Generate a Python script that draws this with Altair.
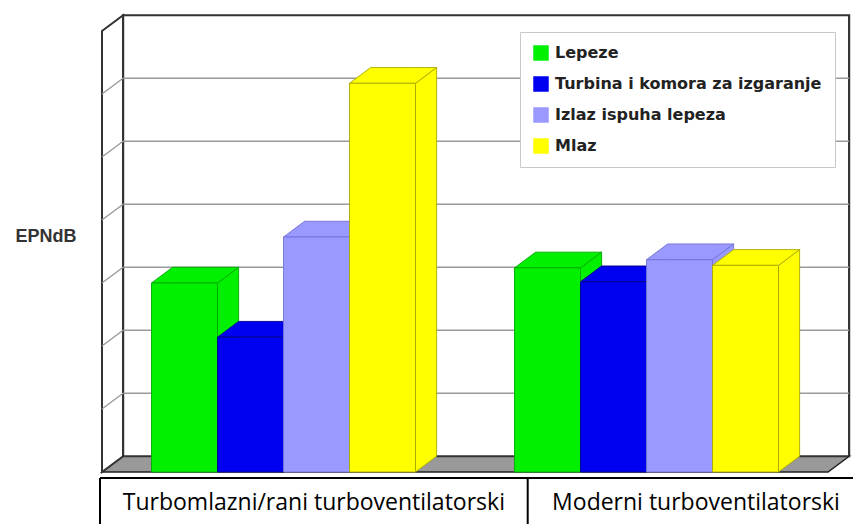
import altair as alt
import pandas as pd

# ---------------- data ----------------
categories = ["Turbomlazni/rani turboventilatorski", "Moderni turboventilatorski"]
series = ["Lepeze", "Turbina i komora za izgaranje", "Izlaz ispuha lepeza", "Mlaz"]
early_vals = [3.0, 2.14, 3.73, 6.17]
modern_vals = [3.24, 3.02, 3.37, 3.28]
group_vals = [early_vals, modern_vals]
grid_levels = [1, 2, 3, 4, 5, 6]
wall_top = 7
axis_title = "EPNdB"

# ---------------- style / layout ----------------
fill_colors = ["#00f000", "#0000f0", "#9999ff", "#ffff00"]
edge_colors = ["#00a800", "#00008c", "#7272d8", "#a8a800"]

W, H = 845, 516
PX_U, PX_V = 66.0, 63.0
ORIGIN_X, ORIGIN_Y = 94.0, 464.0      # front-bottom-left corner of the floor inside the view
DX, DY = 0.32, 0.25                   # depth offset of the 3D box
GROUP_W, GAP, N_SLOTS = 5.5, 0.75, 11
table_edges = [-0.03, 6.45, 11.55]
table_top = -0.095
table_text_y = -0.49

x_dom = [-ORIGIN_X / PX_U, (W - ORIGIN_X) / PX_U]
y_dom = [-(H - ORIGIN_Y) / PX_V, ORIGIN_Y / PX_V]
xs = alt.Scale(domain=x_dom, nice=False, zero=False)
ys = alt.Scale(domain=y_dom, nice=False, zero=False)

# ---------------- derived tables ----------------
front, side, top = [], [], []
for g, vals in enumerate(group_vals):
    for s, v in enumerate(vals):
        x0 = g * GROUP_W + GAP + s
        bid = f"b{g}{s}"
        front.append(dict(x=x0, x2=x0 + 1, lo=0, hi=v, series=series[s], bid=bid))
        side += [dict(x=x0 + 1, lo=0, hi=v, series=series[s], bid=bid),
                 dict(x=x0 + 1 + DX, lo=DY, hi=v + DY, series=series[s], bid=bid)]
        top += [dict(x=x0, lo=v, hi=v, series=series[s], bid=bid),
                dict(x=x0 + DX, lo=v, hi=v + DY, series=series[s], bid=bid),
                dict(x=x0 + 1, lo=v, hi=v + DY, series=series[s], bid=bid),
                dict(x=x0 + 1 + DX, lo=v + DY, hi=v + DY, series=series[s], bid=bid)]
front, side, top = pd.DataFrame(front), pd.DataFrame(side), pd.DataFrame(top)

floor = pd.DataFrame(dict(x=[0, DX, N_SLOTS, N_SLOTS + DX],
                          lo=[0, 0, 0, DY], hi=[0, DY, DY, DY]))
left_wall = pd.DataFrame(dict(x=[0, DX], lo=[0, DY], hi=[wall_top, wall_top + DY]))
back_wall = pd.DataFrame(dict(x=[DX], x2=[N_SLOTS + DX], lo=[DY], hi=[wall_top + DY]))
grid_back = pd.DataFrame(dict(x=[DX] * len(grid_levels), x2=[N_SLOTS + DX] * len(grid_levels),
                              y=[k + DY for k in grid_levels]))
grid_left = pd.DataFrame(dict(x=[0, DX] * len(grid_levels),
                              y=sum([[k, k + DY] for k in grid_levels], []),
                              k=sum([[k, k] for k in grid_levels], [])))
table_h = pd.DataFrame(dict(x=[table_edges[0]], x2=[x_dom[1]], y=[table_top]))
table_v = pd.DataFrame(dict(x=table_edges[:2], y=[table_top] * 2, y2=[y_dom[0]] * 2))
table_txt = pd.DataFrame(dict(x=[(table_edges[i] + table_edges[i + 1]) / 2 for i in range(2)],
                              y=[table_text_y] * 2, label=categories))
ytitle = pd.DataFrame(dict(x=[-0.85], y=[3.73], label=[axis_title]))

# ---------------- encodings ----------------
color_enc = alt.Color("series:N", scale=alt.Scale(domain=series, range=fill_colors),
                      legend=alt.Legend(orient="none", legendX=512, legendY=24, title=None,
                                        symbolType="square", symbolSize=240, symbolStrokeWidth=0,
                                        labelFont="DejaVu Sans", labelFontWeight="bold",
                                        labelFontSize=16, labelColor="#222222", labelLimit=500,
                                        labelOffset=6, padding=13, rowPadding=15,
                                        fillColor="white", strokeColor="#c8c8c8"))
stroke_enc = alt.Stroke("series:N", scale=alt.Scale(domain=series, range=edge_colors), legend=None)

def X(f="x"):
    return alt.X(f"{f}:Q", scale=xs, axis=None)

def Y(f="lo"):
    return alt.Y(f"{f}:Q", scale=ys, axis=None, stack=None)

frame = "#333333"
floor_l = alt.Chart(floor).mark_area(color="#999999", stroke="#222222", strokeWidth=1.5).encode(
    x=X(), y=Y(), y2="hi:Q")
left_l = alt.Chart(left_wall).mark_area(color="white", stroke=frame, strokeWidth=2).encode(
    x=X(), y=Y(), y2="hi:Q")
back_l = alt.Chart(back_wall).mark_rect(fill="white", stroke=frame, strokeWidth=2.2).encode(
    x=X(), x2="x2:Q", y=Y(), y2="hi:Q")
gridb_l = alt.Chart(grid_back).mark_rule(color="#9a9a9a", strokeWidth=1.6).encode(
    x=X(), x2="x2:Q", y=Y("y"))
gridl_l = alt.Chart(grid_left).mark_line(color="#9a9a9a", strokeWidth=1.4).encode(
    x=X(), y=Y("y"), detail="k:N")
side_l = alt.Chart(side).mark_area(strokeWidth=0.9, opacity=1).encode(
    x=X(), y=Y(), y2="hi:Q", color=color_enc, stroke=stroke_enc, detail="bid:N")
top_l = alt.Chart(top).mark_area(strokeWidth=0.9, opacity=1).encode(
    x=X(), y=Y(), y2="hi:Q", color=color_enc, stroke=stroke_enc, detail="bid:N")
front_l = alt.Chart(front).mark_rect(strokeWidth=0.9, opacity=1).encode(
    x=X(), x2="x2:Q", y=Y(), y2="hi:Q", color=color_enc, stroke=stroke_enc)
tab_h = alt.Chart(table_h).mark_rule(color="black", strokeWidth=2).encode(
    x=X(), x2="x2:Q", y=Y("y"))
tab_v = alt.Chart(table_v).mark_rule(color="black", strokeWidth=2).encode(
    x=X(), y=Y("y"), y2="y2:Q")
tab_t = alt.Chart(table_txt).mark_text(font="Open Sans", fontSize=23, color="black",
                                       align="center", baseline="middle").encode(
    x=X(), y=Y("y"), text="label:N")
ytit = alt.Chart(ytitle).mark_text(font="Liberation Sans", fontWeight="bold", fontSize=18,
                                   color="#333333", align="center", baseline="middle").encode(
    x=X(), y=Y("y"), text="label:N")

chart = alt.layer(floor_l, left_l, back_l, gridb_l, gridl_l, side_l, top_l, front_l,
                  tab_h, tab_v, tab_t, ytit).properties(
    width=W, height=H, autosize=alt.AutoSizeParams(type="none"), padding=0,
    background="white"
).configure_view(stroke=None)

chart.save("out.html", embed_options={"renderer": "svg", "actions": False})
